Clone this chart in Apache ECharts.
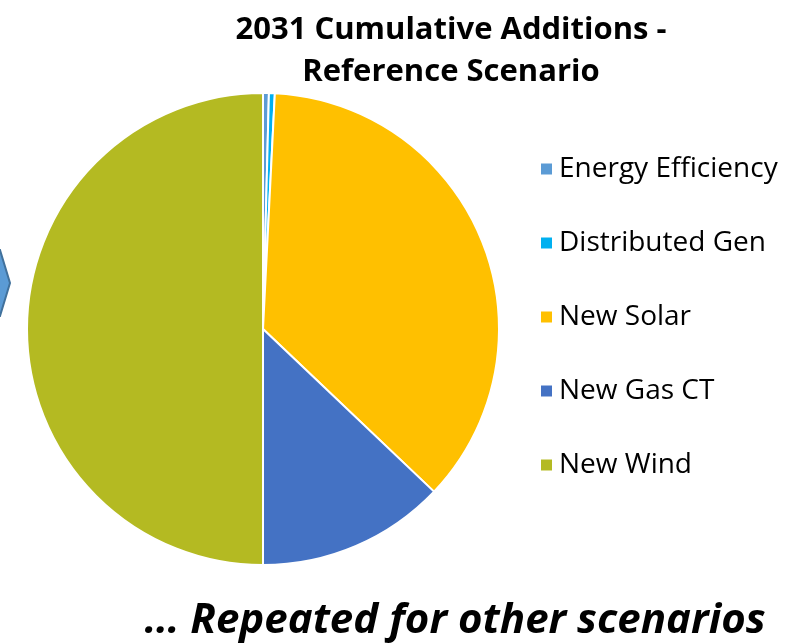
<!DOCTYPE html>
<html><head><meta charset="utf-8">
<script src="https://cdn.jsdelivr.net/npm/echarts@6/dist/echarts.min.js"></script>
<style>html,body{margin:0;padding:0;background:#fff}#c{width:797px;height:644px}</style>
</head><body><div id="c"></div>
<script>
const categories = ["Energy Efficiency", "Distributed Gen", "New Solar", "New Gas CT", "New Wind"];
const values = [0.4, 0.4, 36.3, 12.9, 50.0];
const colors = ["#5B9BD5", "#00B0F0", "#FFC000", "#4472C4", "#B4BA22"];
const titleText = "2031 Cumulative Additions -\nReference Scenario";
const footerText = "… Repeated for other scenarios";

const chart = echarts.init(document.getElementById('c'), null, {renderer: 'canvas'});
chart.setOption({
  animation: false,
  backgroundColor: '#fff',
  title: {
    text: titleText,
    left: 446, top: 4, textAlign: 'center',
    textStyle: {fontFamily: 'Open Sans', fontWeight: 'bold', fontSize: 31, lineHeight: 42, color: '#000'}
  },
  legend: {
    orient: 'vertical',
    left: 536, top: 149,
    icon: 'rect', itemWidth: 11, itemHeight: 11,
    itemGap: 44,
    itemStyle: {borderWidth: 0},
    data: categories,
    textStyle: {fontFamily: 'Open Sans', fontSize: 28, lineHeight: 30, color: '#000', padding: [0,0,0,2]}
  },
  graphic: [
    {type: 'polygon', shape: {points: [[-5,250],[0,250],[10,283],[0,316],[-5,316]]},
     style: {fill: '#5B9BD5', stroke: '#41719C', lineWidth: 2}},
    {type: 'text', style: {x: 455, y: 621, text: footerText, textAlign: 'center', textVerticalAlign: 'middle',
      font: 'italic bold 42px "Open Sans"', fill: '#000'}}
  ],
  series: [{
    type: 'pie',
    center: [263, 329],
    radius: [0, 236],
    startAngle: 90,
    clockwise: true,
    label: {show: false}, labelLine: {show: false},
    emphasis: {disabled: true},
    itemStyle: {borderColor: '#fff', borderWidth: 2},
    data: categories.map((n, i) => ({name: n, value: values[i], itemStyle: {color: colors[i]}}))
  }]
});
</script></body></html>
